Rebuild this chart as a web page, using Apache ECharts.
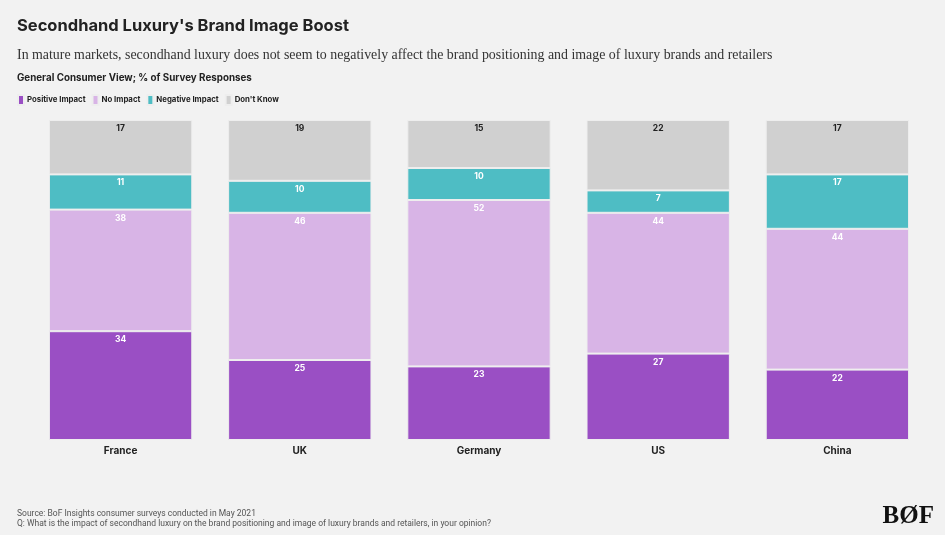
<!DOCTYPE html>
<html><head><meta charset="utf-8">
<script src="https://cdn.jsdelivr.net/npm/echarts@6/dist/echarts.min.js"></script>
<style>html,body{margin:0;padding:0;background:#f2f2f2;}#c{width:945px;height:535px;}</style>
</head><body><div id="c"></div>
<script>
const categories = ['France', 'UK', 'Germany', 'US', 'China'];
const positiveImpact = [34, 25, 23, 27, 22];
const noImpact = [38, 46, 52, 44, 44];
const negativeImpact = [11, 10, 10, 7, 17];
const dontKnow = [17, 19, 15, 22, 17];
const seriesNames = ['Positive Impact', 'No Impact', 'Negative Impact', "Don't Know"];
const colors = ['#9a4fc4', '#d8b4e6', '#4ebdc4', '#d0d0d0'];
const labelColors = ['#ffffff', '#ffffff', '#ffffff', '#222222'];
const values = [positiveImpact, noImpact, negativeImpact, dontKnow];

const chart = echarts.init(document.getElementById('c'));
const font = 'Inter, "Noto Sans", sans-serif';
const narrow = '"Liberation Sans Narrow", "Roboto", sans-serif';
chart.setOption({
  backgroundColor: '#f2f2f2',
  animation: false,
  color: colors,
  title: [
    {text: "Secondhand Luxury's Brand Image Boost", left: 12, top: 13,
     textStyle: {fontFamily: font, fontSize: 16.5, fontWeight: 'bold', color: '#222'}},
    {text: 'In mature markets, secondhand luxury does not seem to negatively affect the brand positioning and image of luxury brands and retailers', left: 12, top: 43,
     textStyle: {fontFamily: '"Liberation Serif", "DejaVu Serif", serif', fontSize: 13.9, fontWeight: 'normal', color: '#333'}},
    {text: 'General Consumer View; % of Survey Responses', left: 12, top: 68,
     textStyle: {fontFamily: font, fontSize: 9.8, fontWeight: 'bold', color: '#222'}},
    {text: 'Source: BoF Insights consumer surveys conducted in May 2021', left: 12, top: 504,
     textStyle: {fontFamily: narrow, fontSize: 8.5, fontWeight: 'normal', color: '#555'}},
    {text: 'Q: What is the impact of secondhand luxury on the brand positioning and image of luxury brands and retailers, in your opinion?', left: 12, top: 514,
     textStyle: {fontFamily: narrow, fontSize: 8.5, fontWeight: 'normal', color: '#555'}},
    {text: 'BØF', right: 6, top: 499,
     textStyle: {fontFamily: '"Liberation Serif", "DejaVu Serif", serif', fontSize: 25, fontWeight: 'bold', color: '#111'}}
  ],
  legend: {
    left: 12, top: 89, itemWidth: 6, itemHeight: 10, itemGap: 6, icon: 'rect',
    textStyle: {fontFamily: font, fontSize: 7.8, fontWeight: 'bold', color: '#222', padding: [0, 0, 0, -2]},
    data: seriesNames
  },
  grid: {left: 31, right: 18, top: 120, bottom: 95},
  xAxis: {
    type: 'category', data: categories,
    axisLine: {show: false}, axisTick: {show: false},
    axisLabel: {fontFamily: font, fontSize: 10, fontWeight: 'bold', color: '#222', margin: 6}
  },
  yAxis: {type: 'value', min: 0, max: 100, show: false, splitLine: {show: false}},
  series: values.map((v, i) => ({
    name: seriesNames[i], type: 'bar', stack: 'total', data: v,
    barCategoryGap: '20%',
    itemStyle: {color: colors[i], borderColor: '#eeeeee', borderWidth: 1},
    label: {show: true, position: 'insideTop', distance: 4, color: labelColors[i],
            fontFamily: font, fontSize: 8.5, fontWeight: 'bold'}
  }))
});
</script></body></html>
